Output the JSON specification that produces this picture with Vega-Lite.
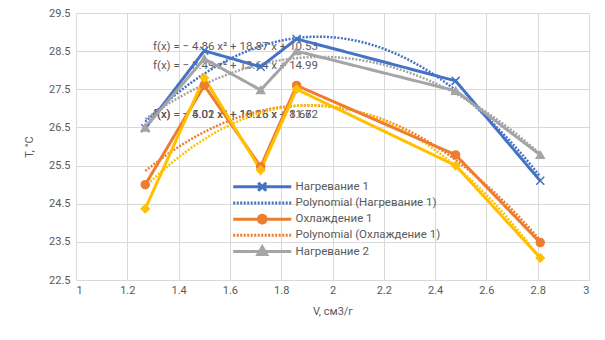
{
  "$schema": "https://vega.github.io/schema/vega-lite/v6.json",
  "width": 513,
  "height": 267,
  "autosize": {"type": "none"},
  "padding": {"left": 76, "top": 13, "right": 16, "bottom": 60},
  "background": "white",
  "config": {
    "view": {"stroke": null},
    "font": "Roboto",
    "axis": {
      "grid": true,
      "gridColor": "#d9d9d9",
      "gridWidth": 1,
      "domain": false,
      "ticks": false,
      "labelOverlap": false,
      "labelColor": "#595959",
      "labelFontSize": 11,
      "titleColor": "#595959",
      "titleFontSize": 11,
      "titleFontWeight": "normal"
    }
  },
  "data": {
    "values": [
      {"series": "Нагревание 1", "trend": "Polynomial (Нагревание 1)", "V": 1.27, "T": 26.48},
      {"series": "Нагревание 1", "trend": "Polynomial (Нагревание 1)", "V": 1.5, "T": 28.51},
      {"series": "Нагревание 1", "trend": "Polynomial (Нагревание 1)", "V": 1.72, "T": 28.09},
      {"series": "Нагревание 1", "trend": "Polynomial (Нагревание 1)", "V": 1.86, "T": 28.82},
      {"series": "Нагревание 1", "trend": "Polynomial (Нагревание 1)", "V": 2.48, "T": 27.72},
      {"series": "Нагревание 1", "trend": "Polynomial (Нагревание 1)", "V": 2.81, "T": 25.1},
      {"series": "Охлаждение 1", "trend": "Polynomial (Охлаждение 1)", "V": 1.27, "T": 25.0},
      {"series": "Охлаждение 1", "trend": "Polynomial (Охлаждение 1)", "V": 1.5, "T": 27.6},
      {"series": "Охлаждение 1", "trend": "Polynomial (Охлаждение 1)", "V": 1.72, "T": 25.47},
      {"series": "Охлаждение 1", "trend": "Polynomial (Охлаждение 1)", "V": 1.86, "T": 27.6},
      {"series": "Охлаждение 1", "trend": "Polynomial (Охлаждение 1)", "V": 2.48, "T": 25.78},
      {"series": "Охлаждение 1", "trend": "Polynomial (Охлаждение 1)", "V": 2.81, "T": 23.48},
      {"series": "Нагревание 2", "trend": "Polynomial (Нагревание 2)", "V": 1.27, "T": 26.5},
      {"series": "Нагревание 2", "trend": "Polynomial (Нагревание 2)", "V": 1.5, "T": 28.3},
      {"series": "Нагревание 2", "trend": "Polynomial (Нагревание 2)", "V": 1.72, "T": 27.48},
      {"series": "Нагревание 2", "trend": "Polynomial (Нагревание 2)", "V": 1.86, "T": 28.5},
      {"series": "Нагревание 2", "trend": "Polynomial (Нагревание 2)", "V": 2.48, "T": 27.46},
      {"series": "Нагревание 2", "trend": "Polynomial (Нагревание 2)", "V": 2.81, "T": 25.78},
      {"series": "Охлаждение 2", "trend": "Polynomial (Охлаждение 2)", "V": 1.27, "T": 24.37},
      {"series": "Охлаждение 2", "trend": "Polynomial (Охлаждение 2)", "V": 1.5, "T": 27.8},
      {"series": "Охлаждение 2", "trend": "Polynomial (Охлаждение 2)", "V": 1.72, "T": 25.38},
      {"series": "Охлаждение 2", "trend": "Polynomial (Охлаждение 2)", "V": 1.86, "T": 27.5},
      {"series": "Охлаждение 2", "trend": "Polynomial (Охлаждение 2)", "V": 2.48, "T": 25.5},
      {"series": "Охлаждение 2", "trend": "Polynomial (Охлаждение 2)", "V": 2.81, "T": 23.08}
    ]
  },
  "encoding": {
    "x": {"field": "V", "type": "quantitative", "scale": {"domain": [1, 3], "nice": false, "zero": false},
      "axis": {"values": [1, 1.2, 1.4, 1.6, 1.8, 2, 2.2, 2.4, 2.6, 2.8, 3], "format": "~g", "labelOverlap": false, "labelPadding": 4, "title": "V, см3/г", "titlePadding": 10}},
    "y": {"field": "T", "type": "quantitative", "scale": {"domain": [22.5, 29.5], "nice": false, "zero": false},
      "axis": {"values": [22.5, 23.5, 24.5, 25.5, 26.5, 27.5, 28.5, 29.5], "format": ".1f", "labelOverlap": false, "labelSeparation": 0, "labelPadding": 6, "title": "T, °C", "titlePadding": 14}}
  },
  "layer": [
    {
      "data": {
        "values": [
          {"V": 1.3, "T": 28.61, "label": "f(x) = − 4.86 x² + 18.87 x + 10.53"},
          {"V": 1.3, "T": 28.11, "label": "f(x) = − 3.49 x² + 13.64 x + 14.99"},
          {"V": 1.3, "T": 26.83, "label": "f(x) = − 4.02 x² + 16.15 x + 11.62"},
          {"V": 1.3, "T": 26.83, "label": "f(x) = − 5.01 x² + 19.26 x + 8.67"}
        ]
      },
      "mark": {"type": "text", "align": "left", "baseline": "middle", "fontSize": 11.5, "color": "#595959"},
      "encoding": {
        "text": {"field": "label"}
      }
    },
    {
      "transform": [{"regression": "T", "on": "V", "groupby": ["trend"], "method": "poly", "order": 2}],
      "mark": {"type": "line", "strokeWidth": 2.5},
      "encoding": {
        "color": {"field": "trend", "type": "nominal",
          "scale": {"domain": ["Нагревание 1", "Polynomial (Нагревание 1)", "Охлаждение 1", "Polynomial (Охлаждение 1)", "Нагревание 2", "Polynomial (Нагревание 2)", "Охлаждение 2", "Polynomial (Охлаждение 2)"],
            "range": ["#4472C4", "#4472C4", "#ED7D31", "#ED7D31", "#A5A5A5", "#A5A5A5", "#FFC000", "#FFC000"]},
          "legend": {
            "orient": "none", "legendX": 180.5, "legendY": 168, "title": null,
            "values": ["Нагревание 1", "Polynomial (Нагревание 1)", "Охлаждение 1", "Polynomial (Охлаждение 1)", "Нагревание 2"],
            "symbolSize": 49, "symbolStrokeWidth": 3, "labelFontSize": 11.5, "labelColor": "#595959", "labelOffset": 27.5,
            "gridAlign": "each", "rowPadding": -0.8,
            "labelLimit": 300,
            "encode": {"symbols": {"update": {
              "shape": {"signal": "datum.value === 'Нагревание 1' ? 'M-8.3,0H8.3M-1.15,-1.15L1.15,1.15M-1.15,1.15L1.15,-1.15' : datum.value === 'Охлаждение 1' ? 'M-8.3,0H8.3M1.15,0L0.81,0.81L0,1.15L-0.81,0.81L-1.15,0L-0.81,-0.81L0,-1.15L0.81,-0.81Z' : datum.value === 'Нагревание 2' ? 'M-8.3,0H8.3M0,-1.35L1.25,0.85L-1.25,0.85Z' : 'M-8.3,0H8.3'"},
              "fill": {"signal": "scale('color', datum.value)"},
              "opacity": {"value": 1}
            }}}
          }},
        "strokeDash": {"field": "trend", "type": "nominal",
          "scale": {"domain": ["Нагревание 1", "Polynomial (Нагревание 1)", "Охлаждение 1", "Polynomial (Охлаждение 1)", "Нагревание 2", "Polynomial (Нагревание 2)", "Охлаждение 2", "Polynomial (Охлаждение 2)"],
            "range": [[1, 0], [2, 1.5], [1, 0], [2, 1.5], [1, 0], [2, 1.5], [1, 0], [2, 1.5]]}}
      }
    },
    {
      "mark": {"type": "line", "strokeWidth": 3},
      "encoding": {
        "color": {"field": "series", "type": "nominal"},
        "strokeDash": {"field": "series", "type": "nominal"}
      }
    },
    {
      "mark": {"type": "point", "filled": true, "size": 64, "strokeWidth": 1.5, "opacity": 1},
      "encoding": {
        "color": {"field": "series", "type": "nominal", "legend": null},
        "stroke": {"field": "series", "type": "nominal", "legend": null,
          "scale": {"domain": ["Нагревание 1", "Охлаждение 1", "Нагревание 2", "Охлаждение 2"], "range": ["#4472C4", "#ED7D31", "#A5A5A5", "#FFC000"]}},
        "shape": {"field": "series", "type": "nominal", "legend": null,
          "scale": {"domain": ["Нагревание 1", "Охлаждение 1", "Нагревание 2", "Охлаждение 2"], "range": ["M-1,-1L1,1M-1,1L1,-1", "circle", "triangle-up", "diamond"]}}
      }
    }
  ]
}
